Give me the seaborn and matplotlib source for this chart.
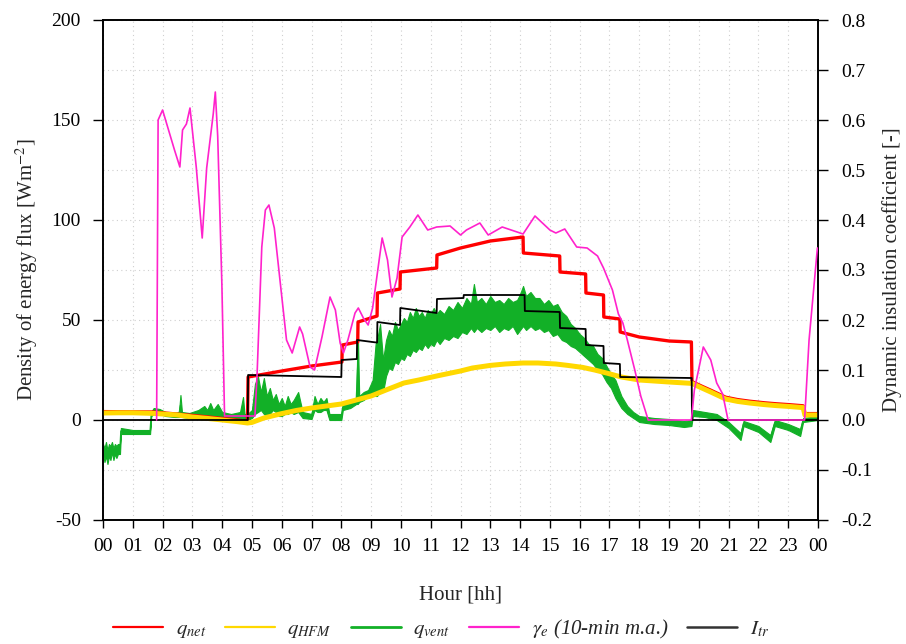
import numpy as np
import pandas as pd
import matplotlib
matplotlib.use("Agg")
import matplotlib.pyplot as plt
from matplotlib.lines import Line2D
from matplotlib.ticker import MultipleLocator, FuncFormatter
import seaborn as sns

# ---------------- data ----------------
# q_net [W/m2]
net_h = [0, 1.7, 3.0, 4.0, 4.85, 4.87, 6.0, 7.0, 8.02, 8.03, 8.55, 8.56, 9.2, 9.21, 9.97,
         9.98, 11.2, 11.21, 12.0, 13.0, 14.1, 14.11, 15.33, 15.34, 16.2, 16.21, 16.8, 16.81,
         17.35, 17.36, 18.0, 19.0, 19.75, 19.77, 20.1, 20.4, 20.9, 21.3, 21.7, 22.2, 22.6,
         23.0, 23.5, 23.56, 24.0]
net_v = [4.2, 4.0, 2.3, 0.8, -0.6, 21.5, 24.5, 27.0, 29.0, 37.5, 39.0, 49.0, 52.0, 63.5, 65.5,
         74.0, 76.0, 82.5, 86.0, 89.5, 91.5, 83.5, 82.0, 74.0, 73.0, 63.5, 62.5, 51.5,
         50.5, 44.0, 41.5, 39.5, 39.0, 19.2, 16.9, 14.9, 11.4, 10.2, 9.4, 8.6, 8.1,
         7.7, 7.1, 3.2, 3.2]

# q_HFM [W/m2]
hfm_h = [0, 0.5, 1.0, 1.7, 2.5, 3.0, 3.5, 4.0, 4.5, 4.85, 5.0, 5.4, 6.0, 6.5, 7.0, 7.5, 8.0,
         8.5, 9.0, 9.5, 10.1, 10.6, 11.2, 12.0, 12.4, 13.0, 13.5, 14.1, 14.6, 15.2, 15.6,
         16.1, 16.5, 16.9, 17.4, 18.0, 18.5, 19.0, 19.77, 20.1, 20.4, 20.9, 21.3, 21.7,
         22.2, 22.6, 23.0, 23.5, 23.56, 24.0]
hfm_v = [3.5, 3.6, 3.6, 3.3, 2.5, 1.5, 0.8, 0.0, -0.8, -1.5, -1.2, 1.0, 3.2, 4.8, 6.0, 7.0, 8.0,
         10.0, 12.0, 15.0, 18.5, 20.0, 22.0, 24.5, 26.0, 27.3, 28.0, 28.5, 28.5, 28.0, 27.3,
         26.3, 25.0, 23.5, 21.5, 20.0, 19.5, 19.0, 18.3, 16.0, 14.0, 10.5, 9.3, 8.5,
         7.7, 7.2, 6.8, 6.2, 2.5, 2.5]

# q_vent [W/m2] : noisy signal given as lower / upper envelope
vent_h = [0.0, 0.05, 0.1, 0.15, 0.2, 0.25, 0.3, 0.35, 0.4, 0.45, 0.5, 0.57, 0.6, 1.0, 1.58,
          1.62, 1.7, 1.9, 2.1, 2.4, 2.55, 2.6, 2.65, 2.9, 3.2, 3.4, 3.5, 3.6, 3.7, 3.85, 4.0,
          4.3, 4.6, 4.7, 4.75, 4.85, 5.0, 5.1, 5.2, 5.3, 5.4, 5.5, 5.6, 5.7, 5.8, 5.9, 6.0,
          6.1, 6.2, 6.3, 6.4, 6.55, 6.7, 7.0, 7.1, 7.2, 7.3, 7.4, 7.5, 7.6, 8.0, 8.05, 8.3,
          8.5, 8.55, 8.6, 8.75, 8.9, 9.05, 9.15, 9.2, 9.3, 9.4,
          9.5, 9.6, 9.7, 9.8, 9.9, 10.0,
          10.1, 10.2, 10.3, 10.4, 10.5, 10.6, 10.7, 10.8, 10.9, 11.0, 11.1, 11.2, 11.3,
          11.45, 11.6, 11.75, 11.9, 12.05, 12.2, 12.35, 12.45, 12.55, 12.7, 12.85, 13.0, 13.15, 13.3,
          13.45, 13.6, 13.75, 13.9, 14.0, 14.1, 14.2, 14.35, 14.5, 14.65, 14.8, 14.95, 15.1,
          15.25, 15.4, 15.55, 15.7, 15.85, 16.0, 16.15, 16.3, 16.45, 16.6, 16.75, 16.9, 17.05,
          17.2, 17.4, 17.6, 17.8, 18.0, 18.5, 19.0, 19.5, 19.75, 19.8, 20.2, 20.6, 21.0, 21.4,
          21.5, 22.0, 22.4, 22.55, 23.0, 23.4, 23.5, 24.0]
vent_lo = [-17, -21, -18, -22, -18, -20, -16, -20, -17, -19, -17, -17, -7, -7, -7,
           2, 3, 3, 2, 1.5, 1.5, 2, 1.5, 1, 1, 1.5, 2, 2, 2, 2, 1,
           0.5, 0.5, 1, 0, 0, 1, 3, 4, 5, 3, 2, 3, 5, 4, 2, 2,
           3, 3, 4, 3, 4, 1, 0.5, 5, 4, 4, 5, 5, 0, 0, 5, 6,
           8, 8, 9, 10, 12, 13, 12, 12, 15, 14,
           22, 26, 25, 29, 28, 31,
           30, 33, 32, 35, 34, 36, 35, 38, 36, 38, 37, 40, 38,
           41, 40, 42, 41, 44, 43, 46, 44, 46, 44, 46, 45, 47, 44,
           46, 45, 47, 43, 45, 47, 45, 47, 45, 46, 44, 45, 42,
           43, 40, 39, 37, 36, 34, 32, 30, 28, 25, 23, 19, 16,
           11, 6, 3, 1, -1, -2, -2.5, -3.5, -3, 2, 1.5, 0, -4, -10,
           -3, -6, -11, -3, -5, -8, -1, 0]
vent_hi = [-12, -14, -11, -15, -12, -13, -11, -14, -12, -13, -12, -12, -4, -5, -5,
           4, 6, 5.5, 4, 3.5, 4, 12.5, 4, 3.5, 5, 7, 5, 8.5, 5, 8, 4,
           3, 4, 11.5, 3, 3, 5, 18, 22, 14, 21, 12, 16, 10, 13, 8, 11,
           7, 12, 8, 10, 14, 4, 3, 12, 8, 11, 9, 11, 3, 3, 8, 9,
           10, 46, 12, 14, 15, 20, 38, 40, 48, 30,
           40, 45, 42, 49, 45, 48,
           51, 49, 54, 51, 56, 52, 54, 51, 55, 53, 56, 53, 55,
           53, 57, 55, 59, 56, 61, 58, 68, 59, 61, 58, 62, 59, 60,
           58, 61, 59, 60, 63, 67, 62, 64, 61, 61, 58, 60, 57,
           58, 54, 52, 48, 46, 43, 41, 38, 37, 33, 31, 27, 23,
           20, 12, 7, 4, 2, 1, 0.5, -0.5, 0, 5, 4, 3, -1, -6.5,
           -0.5, -3, -7.5, 0, -2, -4.5, 1, 2]

# gamma_e (10-min moving average) [-], right axis
gam_h = [1.8, 1.85, 2.0, 2.2, 2.4, 2.58, 2.67, 2.8, 2.92, 3.13, 3.33, 3.48, 3.7, 3.77, 3.85,
         3.99, 4.08, 5.1, 5.17, 5.33, 5.45, 5.57, 5.75, 5.94, 6.16, 6.35, 6.6, 6.7, 6.95, 7.1,
         7.35, 7.62, 7.8, 7.96, 8.07, 8.22, 8.46, 8.57, 8.74, 8.9, 9.05, 9.37, 9.55, 9.7, 9.87,
         10.04, 10.3, 10.57, 10.9, 11.2, 11.65, 12.0, 12.2, 12.65, 12.93, 13.4, 13.9, 14.1,
         14.5, 15.0, 15.2, 15.5, 15.9, 16.25, 16.6, 16.8, 17.1, 17.3, 17.45, 17.6, 17.85,
         18.05, 18.3, 19.75, 19.85, 20.15, 20.4, 20.6, 20.8, 20.98, 23.55, 23.7, 23.98]
gam_v = [0.0, 0.600, 0.620, 0.580, 0.540, 0.506, 0.580, 0.592, 0.624, 0.506, 0.364, 0.504,
         0.612, 0.656, 0.568, 0.272, 0.008, 0.008, 0.088, 0.346, 0.420, 0.430, 0.384, 0.280,
         0.160, 0.134, 0.186, 0.172, 0.106, 0.100, 0.166, 0.246, 0.220, 0.154, 0.134, 0.160,
         0.214, 0.224, 0.204, 0.190, 0.224, 0.364, 0.320, 0.246, 0.284, 0.366, 0.386, 0.410,
         0.380, 0.386, 0.388, 0.370, 0.380, 0.394, 0.370, 0.386, 0.376, 0.372, 0.408, 0.380,
         0.374, 0.382, 0.346, 0.344, 0.328, 0.304, 0.260, 0.212, 0.194, 0.160, 0.100, 0.048,
         0.0, 0.0, 0.060, 0.146, 0.120, 0.074, 0.052, 0.0, 0.0, 0.160, 0.344]

# I_tr
itr_h = [0, 4.86, 4.87, 8.0, 8.01, 8.52, 8.53, 9.2, 9.21, 9.97, 9.98, 11.2, 11.21, 12.1, 12.11,
         14.15, 14.16, 15.33, 15.34, 16.2, 16.21, 16.8, 16.81, 17.35, 17.36, 19.76, 19.77, 24]
itr_v = [0, 0, 22.5, 21.5, 30, 30.5, 40, 38.7, 49, 47.5, 56, 53.5, 60.5, 61, 62.5,
         62.5, 54.5, 54, 46, 45.5, 37.5, 37, 28.5, 28, 21.5, 21, 0, 0]

hour_labels = [f"{h % 24:02d}" for h in range(25)]

# ---------------- styling ----------------
sns.set_theme(style="white")
plt.rcParams["font.family"] = ["Liberation Serif", "DejaVu Serif"]
plt.rcParams["mathtext.fontset"] = "stix"
plt.rcParams["axes.unicode_minus"] = False

C_NET = "#ff0000"
C_HFM = "#ffd800"
C_VENT = "#12b027"
C_GAM = "#ff22cc"
C_ITR = "#000000"

fig = plt.figure(figsize=(9.06, 6.44), dpi=100)
ax = fig.add_axes([103 / 906, 1 - 520 / 644, (818 - 103) / 906, 500 / 644])
ax2 = ax.twinx()

ax.set_xlim(0, 24)
ax.set_ylim(-50, 200)
ax2.set_ylim(-0.2, 0.8)
ax.xaxis.set_major_locator(MultipleLocator(1))
ax.yaxis.set_major_locator(MultipleLocator(50))
ax.yaxis.set_minor_locator(MultipleLocator(25))
ax2.yaxis.set_major_locator(MultipleLocator(0.1))
ax.grid(True, which="both", color="#cfcfcf", linestyle=(0, (1, 3)), linewidth=0.8)
ax2.grid(False)
ax.set_axisbelow(True)

# q_vent band
ax.fill_between(vent_h, vent_lo, vent_hi, color=C_VENT, linewidth=0.8, edgecolor=C_VENT, zorder=2)
vent_mid = [(a + b) / 2 for a, b in zip(vent_lo, vent_hi)]
sns.lineplot(x=vent_h, y=vent_mid, ax=ax, color=C_VENT, lw=1.0, estimator=None, sort=False, zorder=2)
# q_net (under q_HFM where they coincide)
sns.lineplot(x=net_h, y=net_v, ax=ax, color=C_NET, lw=2.4, estimator=None, sort=False, zorder=3)
# q_HFM
sns.lineplot(x=hfm_h, y=hfm_v, ax=ax, color=C_HFM, lw=3.6, estimator=None, sort=False, zorder=4)
# I_tr
sns.lineplot(x=itr_h, y=itr_v, ax=ax, color=C_ITR, lw=1.3, estimator=None, sort=False, zorder=5)
# gamma_e
sns.lineplot(x=gam_h, y=gam_v, ax=ax2, color=C_GAM, lw=1.2, estimator=None, sort=False, zorder=6)

# ticks
ax.set_xticks(range(25))
ax.set_xticklabels(hour_labels)
ax.tick_params(axis="x", which="major", direction="out", length=6, width=1, pad=7,
               labelsize=14, bottom=True, colors="black")
ax.tick_params(axis="y", which="major", direction="out", length=7, width=1, pad=9,
               labelsize=14, left=True, colors="black")
ax.tick_params(axis="y", which="minor", length=0)
ax2.tick_params(axis="y", which="major", direction="out", length=7, width=1, pad=10,
                labelsize=14, right=True, colors="black")
ax2.yaxis.set_major_formatter(FuncFormatter(lambda v, p: f"{v:.1f}"))

for a in (ax, ax2):
    for s in a.spines.values():
        s.set_color("black")
        s.set_linewidth(1.2)

ax.set_xlabel("Hour [hh]", fontsize=15, labelpad=22)
ax.set_ylabel(r"Density of energy flux [Wm$^{-2}$]", fontsize=15, labelpad=8)
ax2.set_ylabel("Dynamic insulation coefficient [-]", fontsize=15, labelpad=7)

handles = [
    Line2D([], [], color=C_NET, lw=1.6),
    Line2D([], [], color=C_HFM, lw=1.6),
    Line2D([], [], color=C_VENT, lw=2.0),
    Line2D([], [], color=C_GAM, lw=1.6),
    Line2D([], [], color="#333333", lw=1.8),
]
labels = [r"$q_{net}$", r"$q_{HFM}$", r"$q_{vent}$",
          r"$\gamma_e$ (10-min m.a.)", r"$I_{tr}$"]
fig.legend(handles, labels, loc="center", bbox_to_anchor=(441 / 906, 1 - 629 / 644),
           ncol=5, frameon=False, handlelength=2.4, handletextpad=0.6,
           columnspacing=0.9, prop={"family": "Liberation Serif", "style": "italic", "size": 15})

fig.savefig("out.png", dpi=100)
